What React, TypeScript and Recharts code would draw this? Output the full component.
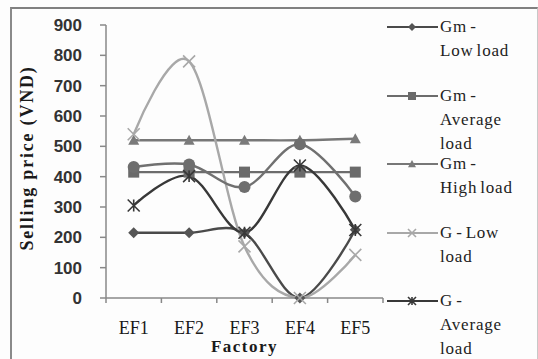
import React from "react";
import { LineChart, Line, XAxis, YAxis, Legend, Label } from "recharts";

const factories = ["EF1", "EF2", "EF3", "EF4", "EF5"];
const gmLowLoad = [215, 215, 215, 0, 225];
const gmAverageLoad = [415, 415, 415, 415, 415];
const gmHighLoad = [520, 520, 520, 520, 525];
const gLowLoad = [540, 780, 170, 0, 142];
const gAverageLoad = [305, 402, 215, 437, 224];
const gHighLoad = [432, 440, 366, 507, 335];
const yTicks = [0, 100, 200, 300, 400, 500, 600, 700, 800, 900];

const WIDTH = 538;
const HEIGHT = 359;
const MARGIN = { top: 25, right: 155, bottom: 21, left: 10 };
const Y_AXIS_WIDTH = 96;
const X_AXIS_HEIGHT = 40;
const PLOT_LEFT = MARGIN.left + Y_AXIS_WIDTH;
const PLOT_RIGHT = WIDTH - MARGIN.right;
const PLOT_BOTTOM = HEIGHT - MARGIN.bottom - X_AXIS_HEIGHT;
const BAND = (PLOT_RIGHT - PLOT_LEFT) / factories.length;

type Shape = "diamond" | "square" | "triangle" | "cross" | "star" | "circle";

type Series = {
  key: string;
  name: string;
  lines: string[];
  color: string;
  markerColor: string;
  shape: Shape;
  values: number[];
  inLegend: boolean;
};

const series: Series[] = [
  { key: "gmLow", name: "Gm - Low load", lines: ["Gm -", "Low load"], color: "#4a4a4a", markerColor: "#555", shape: "diamond", values: gmLowLoad, inLegend: true },
  { key: "gmAvg", name: "Gm - Average load", lines: ["Gm -", "Average", "load"], color: "#6c6c6c", markerColor: "#6a6a6a", shape: "square", values: gmAverageLoad, inLegend: true },
  { key: "gmHigh", name: "Gm - High load", lines: ["Gm -", "High load"], color: "#777", markerColor: "#7a7a7a", shape: "triangle", values: gmHighLoad, inLegend: true },
  { key: "gLow", name: "G - Low load", lines: ["G - Low", "load"], color: "#a8a8a8", markerColor: "#a8a8a8", shape: "cross", values: gLowLoad, inLegend: true },
  { key: "gAvg", name: "G - Average load", lines: ["G -", "Average", "load"], color: "#383838", markerColor: "#383838", shape: "star", values: gAverageLoad, inLegend: true },
  { key: "gHigh", name: "G - High load", lines: ["G -", "High load"], color: "#707070", markerColor: "#6e6e6e", shape: "circle", values: gHighLoad, inLegend: false },
];

const data = factories.map((name, i) => {
  const row: Record<string, any> = { name };
  series.forEach((s) => (row[s.key] = s.values[i]));
  return row;
});

// Catmull-Rom style smoothing (cardinal, tension 0), close to spreadsheet "smoothed line"
function smoothCurve(context: any) {
  const k = 1 / 6;
  let x0 = NaN, y0 = NaN, x1 = NaN, y1 = NaN, x2 = NaN, y2 = NaN;
  let n = 0;
  const seg = (x: number, y: number) => {
    context.bezierCurveTo(
      x1 + k * (x2 - x0), y1 + k * (y2 - y0),
      x2 + k * (x1 - x), y2 + k * (y1 - y),
      x2, y2
    );
  };
  return {
    areaStart() {},
    areaEnd() {},
    lineStart() {
      x0 = x1 = x2 = y0 = y1 = y2 = NaN;
      n = 0;
    },
    lineEnd() {
      if (n === 2) context.lineTo(x2, y2);
      else if (n === 3) seg(x1, y1);
    },
    point(x: number, y: number) {
      x = +x;
      y = +y;
      if (n === 0) {
        n = 1;
        context.moveTo(x, y);
      } else if (n === 1) {
        n = 2;
        x1 = x;
        y1 = y;
      } else {
        n = 3;
        seg(x, y);
      }
      x0 = x1; x1 = x2; x2 = x;
      y0 = y1; y1 = y2; y2 = y;
    },
  };
}

function Marker({ shape, cx, cy, size, color }: { shape: Shape; cx: number; cy: number; size: number; color: string }) {
  const r = size / 2;
  switch (shape) {
    case "diamond":
      return <polygon points={`${cx},${cy - r} ${cx + r},${cy} ${cx},${cy + r} ${cx - r},${cy}`} fill={color} />;
    case "square":
      return <rect x={cx - r} y={cy - r} width={size} height={size} fill={color} />;
    case "triangle":
      return <polygon points={`${cx},${cy - r} ${cx + r},${cy + r * 0.8} ${cx - r},${cy + r * 0.8}`} fill={color} />;
    case "circle":
      return <circle cx={cx} cy={cy} r={r} fill={color} />;
    case "cross":
      return (
        <path d={`M${cx - r},${cy - r}L${cx + r},${cy + r}M${cx + r},${cy - r}L${cx - r},${cy + r}`} stroke={color} strokeWidth={1.6} fill="none" />
      );
    case "star":
      return (
        <path
          d={`M${cx - r},${cy - r}L${cx + r},${cy + r}M${cx + r},${cy - r}L${cx - r},${cy + r}M${cx},${cy - r}L${cx},${cy + r}`}
          stroke={color}
          strokeWidth={1.6}
          fill="none"
        />
      );
  }
  return null;
}

// category ticks sit between bands, labels at band centres
function FactoryTick({ x, payload, index }: any) {
  const left = x - BAND / 2;
  return (
    <g>
      <line x1={left} y1={PLOT_BOTTOM} x2={left} y2={PLOT_BOTTOM + 5} stroke="#888" strokeWidth={1.5} />
      {index === factories.length - 1 && (
        <line x1={x + BAND / 2} y1={PLOT_BOTTOM} x2={x + BAND / 2} y2={PLOT_BOTTOM + 5} stroke="#888" strokeWidth={1.5} />
      )}
      <text x={x} y={PLOT_BOTTOM + 36} textAnchor="middle" fontFamily="Liberation Serif" fontSize={18} fill="#1a1a1a">
        {payload.value}
      </text>
    </g>
  );
}

// legend keeps the series order; the last series has no legend entry
function renderLegend() {
  const items = series.filter((s) => s.inLegend);
  return (
    <div style={{ position: "relative", width: 150, height: HEIGHT }}>
      {items.map((s, i) => (
        <div key={s.key} style={{ position: "absolute", left: 0, top: 15 + i * 68.5, display: "flex", alignItems: "flex-start" }}>
          <svg width={53} height={24} style={{ flex: "none" }}>
            <line x1={0} y1={12} x2={51} y2={12} stroke={s.color} strokeWidth={2.2} />
            <Marker shape={s.shape} cx={25} cy={12} size={8} color={s.markerColor} />
          </svg>
          <div style={{ fontFamily: "Liberation Serif", fontSize: 17, lineHeight: "24px", letterSpacing: 0.8, wordSpacing: -2, color: "#222" }}>
            {s.lines.map((l) => (
              <div key={l} style={{ whiteSpace: "nowrap" }}>{l}</div>
            ))}
          </div>
        </div>
      ))}
    </div>
  );
}

export default function App() {
  return (
    <div style={{ position: "absolute", left: 0, top: 0, width: WIDTH, height: HEIGHT, background: "#fdfdfd" }}>
      <div
        style={{
          position: "absolute",
          left: 10,
          top: 7,
          right: 0,
          bottom: -4,
          borderTop: "2px solid #808080",
          borderLeft: "2px solid #8a8a8a",
          borderRight: "1px solid #c8c8c8",
        }}
      />
      <LineChart width={WIDTH} height={HEIGHT} data={data} margin={MARGIN}>
        <XAxis
          dataKey="name"
          scale="band"
          height={X_AXIS_HEIGHT}
          axisLine={{ stroke: "#888", strokeWidth: 1.5 }}
          tickLine={false}
          tick={FactoryTick}
          interval={0}
        >
          <Label
            content={({ viewBox }: any) => (
              <text
                x={viewBox.x + viewBox.width / 2}
                y={viewBox.y + 54}
                textAnchor="middle"
                fontFamily="Liberation Serif"
                fontWeight="bold"
                fontSize={17}
                letterSpacing={1.5}
                fill="#1a1a1a"
              >
                Factory
              </text>
            )}
          />
        </XAxis>
        <YAxis
          domain={[0, 900]}
          ticks={yTicks}
          width={Y_AXIS_WIDTH}
          axisLine={{ stroke: "#888", strokeWidth: 1.5 }}
          tickLine={{ stroke: "#888", strokeWidth: 1.5 }}
          tickSize={6}
          tickMargin={18}
          tick={{ fontFamily: "Liberation Sans", fontSize: 17, fontWeight: "bold", fill: "#333" }}
        >
          <Label
            content={() => (
              <text
                x={27}
                y={158}
                transform="rotate(-90 27 158)"
                textAnchor="middle"
                dominantBaseline="central"
                fontFamily="Liberation Serif"
                fontWeight="bold"
                fontSize={18}
                letterSpacing={1.8}
                fill="#1a1a1a"
              >
                Selling price (VND)
              </text>
            )}
          />
        </YAxis>
        <Legend
          layout="vertical"
          align="center"
          verticalAlign="middle"
          content={renderLegend}
          wrapperStyle={{ left: 387, top: 0, width: 150 }}
        />
        {series.map((s) => (
          <Line
            key={s.key}
            dataKey={s.key}
            name={s.name}
            type={smoothCurve as any}
            stroke={s.color}
            strokeWidth={2.4}
            legendType={s.inLegend ? "line" : "none"}
            isAnimationActive={false}
            activeDot={false}
            dot={(p: any) => (
              <Marker key={`${s.key}-${p.index}`} shape={s.shape} cx={p.cx} cy={p.cy} size={s.shape === "circle" ? 12 : s.shape === "cross" || s.shape === "star" ? 12 : 11} color={s.markerColor} />
            )}
          />
        ))}
      </LineChart>
    </div>
  );
}
